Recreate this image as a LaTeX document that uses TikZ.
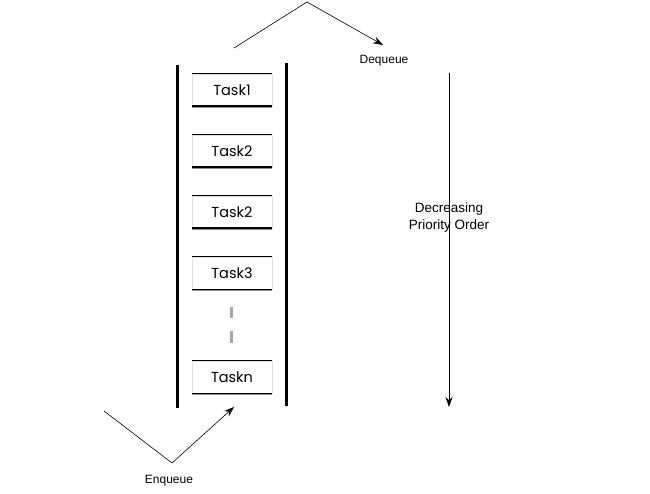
\documentclass[tikz,border=0pt]{standalone}
\usepackage{fontspec}
\setmainfont{Liberation Sans}
\newfontfamily\boxfont{Poppins}
\usetikzlibrary{arrows.meta,shadows}
\begin{document}
\begin{tikzpicture}[x=1pt,y=-1pt,
  taskbox/.style={minimum width=80pt,minimum height=32pt,inner sep=0pt,fill=white,
    draw=gray!25,line width=0.4pt,
    drop shadow={shadow xshift=0pt,shadow yshift=-2pt,opacity=0.45,fill=black},
    font=\boxfont\fontsize{14.5}{16}\selectfont,
    append after command={
      [black] (\tikzlastnode.north west) edge[line width=0.8pt] (\tikzlastnode.north east)
      (\tikzlastnode.south west) edge[line width=1.4pt] (\tikzlastnode.south east)}},
  wall/.style={line width=3pt},
  conn/.style={line width=0.6pt,-{Stealth[length=10pt,width=7pt]}},
  lbl/.style={font=\fontsize{12}{14}\selectfont}]
\useasboundingbox (0,0) rectangle (650,494);
\fill[white] (0,0) rectangle (650,494);
% walls
\coordinate (wl1) at (177,65); \coordinate (wl2) at (177,408);
\coordinate (wr1) at (286,63); \coordinate (wr2) at (286,406);
\draw[wall] (wl1) -- (wl2);
\draw[wall] (wr1) -- (wr2);
% tasks
\node[taskbox] (t1) at (232,90) {Task1};
\node[taskbox] (t2) at (232,151) {Task2};
\node[taskbox] (t3) at (232,212) {Task2};
\node[taskbox] (t4) at (232,273) {Task3};
\node[taskbox] (tn) at (232,377) {Taskn};
% dots
\coordinate (g1) at (231,307); \coordinate (g2) at (231,318);
\coordinate (g3) at (231,331); \coordinate (g4) at (231,343);
\draw[gray!70,line width=3pt] (g1) -- (g2) (g3) -- (g4);
% dequeue
\coordinate (d1) at (234,48); \coordinate (d2) at (307,2); \coordinate (d3) at (383,45);
\draw[conn] (d1) -- (d2) -- (d3);
\node[lbl] (dq) at (384,61) {Dequeue};
% enqueue
\coordinate (e1) at (104,411); \coordinate (e2) at (172,463); \coordinate (e3) at (234,407);
\draw[conn] (e1) -- (e2) -- (e3);
\node[lbl] (eq) at (169,481) {Enqueue};
% priority
\coordinate (p1) at (449,73); \coordinate (p2) at (449,407);
\draw[conn] (p1) -- (p2);
\node[font=\fontsize{13.5}{17}\selectfont,align=center] (po) at (449,218) {Decreasing\\Priority Order};
\end{tikzpicture}
\end{document}
